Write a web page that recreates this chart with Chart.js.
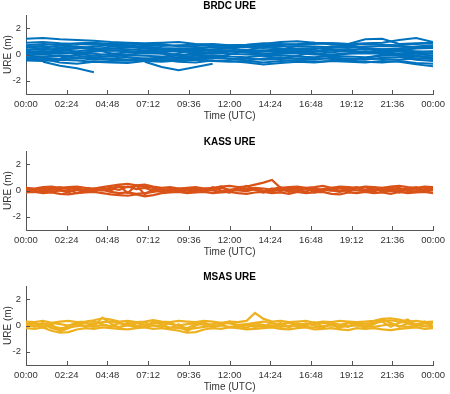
<!DOCTYPE html>
<html>
<head>
<meta charset="utf-8">
<script src="https://cdn.jsdelivr.net/npm/chart.js@4.4.1/dist/chart.umd.min.js"></script>
<style>
  html, body { margin: 0; padding: 0; background: #fff; }
  body { width: 450px; height: 394px; position: relative; overflow: hidden; }
  .panel { position: absolute; left: 0; width: 450px; height: 123px; }
</style>
</head>
<body>
<div class="panel" style="top:0px"><canvas id="brdc" width="450" height="123"></canvas></div>
<div class="panel" style="top:136px"><canvas id="kass" width="450" height="123"></canvas></div>
<div class="panel" style="top:271px"><canvas id="msas" width="450" height="123"></canvas></div>
<script>
// time axis (hours of day)
var tickHours = [0, 2.4, 4.8, 7.2, 9.6, 12, 14.4, 16.8, 19.2, 21.6, 24];
var tickLabels = ["00:00", "02:24", "04:48", "07:12", "09:36", "12:00", "14:24", "16:48", "19:12", "21:36", "00:00"];
var yTicks = [-2, 0, 2];

// BRDC sampled hourly
var hours1 = [0, 1, 2, 3, 4, 5, 6, 7, 8, 9, 10, 11, 12, 13, 14, 15, 16, 17, 18, 19, 20, 21, 22, 23, 24];
// KASS / MSAS sampled every 30 min
var hours05 = [0, 0.5, 1, 1.5, 2, 2.5, 3, 3.5, 4, 4.5, 5, 5.5, 6, 6.5, 7, 7.5, 8, 8.5, 9, 9.5,
  10, 10.5, 11, 11.5, 12, 12.5, 13, 13.5, 14, 14.5, 15, 15.5, 16, 16.5, 17, 17.5, 18, 18.5, 19, 19.5,
  20, 20.5, 21, 21.5, 22, 22.5, 23, 23.5, 24];

var brdcA = [1.2, 1.25, 1.15, 1.1, 1.05, 0.95, 0.9, 0.85, 0.9, 0.95, 0.8, 0.75, 0.7, 0.72, 0.8, 0.95, 1.0, 0.9, 0.85, 0.8, 0.85, 0.9, 1.1, 1.25, 0.95];
var brdcB = [0.9, 0.95, 0.85, 0.8, 0.75, 0.8, 0.85, 0.7, 0.65, 0.7, 0.75, 0.8, 0.7, 0.75, 0.85, 0.8, 0.75, 0.8, 0.85, 0.8, 1.15, 1.2, 0.8, 0.85, 0.9];
var brdcC = [0.6, 0.65, 0.55, 0.6, 0.5, 0.45, 0.55, 0.6, 0.5, 0.45, 0.5, 0.55, 0.6, 0.55, 0.5, 0.6, 0.65, 0.6, 0.55, 0.5, 0.6, 0.65, 0.6, 0.55, 0.6];
var brdcD = [0.4, 0.35, 0.45, 0.5, 0.4, 0.3, 0.35, 0.45, 0.4, 0.35, 0.3, 0.4, 0.45, 0.35, 0.3, 0.4, 0.45, 0.5, 0.4, 0.35, 0.45, 0.4, 0.35, 0.45, 0.5];
var brdcE = [0.2, 0.25, 0.15, 0.1, 0.2, 0.3, 0.25, 0.15, 0.2, 0.25, 0.15, 0.1, 0.2, 0.25, 0.3, 0.2, 0.15, 0.25, 0.3, 0.2, 0.15, 0.2, 0.3, 0.25, 0.2];
var brdcF = [0.05, 0.0, 0.1, 0.15, 0.05, -0.05, 0.0, 0.1, 0.05, -0.05, 0.0, 0.1, 0.05, 0.0, -0.05, 0.05, 0.1, 0.0, -0.05, 0.05, 0.1, 0.05, 0.0, 0.1, 0.05];
var brdcG = [-0.1, -0.15, -0.05, -0.1, -0.2, -0.15, -0.05, -0.1, -0.15, -0.2, -0.1, -0.05, -0.15, -0.2, -0.1, -0.05, -0.15, -0.2, -0.1, -0.15, -0.2, -0.1, -0.05, -0.15, -0.1];
var brdcH = [-0.3, -0.25, -0.35, -0.3, -0.25, -0.35, -0.4, -0.3, -0.25, -0.35, -0.3, -0.25, -0.35, -0.3, -0.4, -0.35, -0.3, -0.25, -0.35, -0.4, -0.3, -0.35, -0.4, -0.3, -0.35];
var brdcI = [-0.45, -0.5, -0.4, -0.45, -0.55, -0.5, -0.45, -0.5, -0.55, -0.45, -0.4, -0.5, -0.55, -0.5, -0.6, -0.5, -0.45, -0.55, -0.5, -0.45, -0.55, -0.6, -0.5, -0.65, -0.7];
var brdcJ = [null, -0.55, -0.85, -1.05, -1.35, null, null, null, null, null, null, null, null, null, null, null, null, null, null, null, null, null, null, null, null];
var brdcK = [null, null, null, null, null, null, null, -0.55, -0.95, -1.2, -0.95, -0.7, null, null, null, null, null, null, null, null, null, null, null, null, null];
var brdcL = [0.3, 0.5, 0.7, 0.6, 0.4, 0.1, -0.2, -0.4, -0.2, 0.1, 0.4, 0.6, 0.5, 0.2, -0.1, -0.3, -0.1, 0.2, 0.5, 0.7, 0.5, 0.2, -0.1, -0.3, -0.2];
var brdcM = [-0.2, -0.4, -0.3, 0.0, 0.3, 0.6, 0.7, 0.5, 0.2, -0.1, -0.4, -0.3, 0.0, 0.3, 0.6, 0.7, 0.4, 0.1, -0.2, -0.4, -0.3, 0.0, 0.3, 0.5, 0.6];
var brdcN = [0.7, 0.8, 0.75, 0.85, 0.9, 0.8, 0.7, 0.75, 0.8, 0.6, 0.65, 0.7, 0.65, 0.6, 0.7, 0.75, 0.8, 0.9, 0.75, 0.7, 0.8, 0.75, 0.7, 0.8, 0.85];
var brdcO = [-0.4, -0.35, -0.6, -0.7, -0.55, -0.6, -0.65, -0.5, -0.4, -0.55, -0.6, -0.45, -0.5, -0.6, -0.75, -0.65, -0.55, -0.6, -0.5, -0.55, -0.6, -0.5, -0.55, -0.75, -0.9];
var brdcP = [0.1, 0.2, 0.3, 0.25, 0.35, 0.45, 0.4, 0.3, 0.2, 0.35, 0.45, 0.3, 0.25, 0.15, 0.2, 0.3, 0.35, 0.25, 0.15, 0.3, 0.4, 0.3, 0.2, 0.15, 0.25];
var brdcQ = [0.55, 0.45, 0.35, 0.45, 0.6, 0.7, 0.6, 0.5, 0.35, 0.3, 0.2, 0.35, 0.5, 0.6, 0.55, 0.45, 0.3, 0.4, 0.6, 0.65, 0.5, 0.4, 0.45, 0.6, 0.7];
var brdcR = [-0.05, 0.1, 0.2, 0.05, -0.1, 0.05, 0.15, 0.25, 0.1, -0.05, 0.1, 0.2, 0.3, 0.15, 0.05, 0.15, 0.25, 0.1, 0.0, 0.1, 0.25, 0.15, 0.05, -0.05, 0.1];
var brdcS = [-0.35, -0.2, -0.1, -0.25, -0.4, -0.3, -0.2, -0.3, -0.45, -0.35, -0.2, -0.15, -0.3, -0.45, -0.3, -0.2, -0.35, -0.4, -0.25, -0.3, -0.4, -0.25, -0.2, -0.4, -0.5];

var kass1 = [0.2, 0.15, 0.25, 0.3, 0.2, 0.25, 0.3, 0.2, 0.15, 0.25,
  0.35, 0.45, 0.5, 0.4, 0.45, 0.3, 0.2, 0.25, 0.15, 0.2,
  0.25, 0.15, 0.2, 0.3, 0.35, 0.25, 0.3, 0.45, 0.6, 0.8,
  0.2, 0.25, 0.3, 0.2, 0.25, 0.35, 0.2, 0.3, 0.25, 0.2,
  0.3, 0.25, 0.2, 0.3, 0.35, 0.25, 0.2, 0.3, 0.25];
var kass2 = [0.1, 0.05, 0.15, 0.05, 0.1, 0.2, 0.1, 0.0, 0.15, 0.1,
  0.2, 0.3, 0.25, 0.35, 0.3, 0.2, 0.1, 0.05, 0.15, 0.1,
  0.05, 0.15, 0.1, 0.2, 0.05, 0.15, 0.1, 0.2, 0.15, 0.05,
  0.15, 0.1, 0.2, 0.15, 0.05, 0.1, 0.2, 0.15, 0.1, 0.2,
  0.05, 0.15, 0.1, 0.2, 0.1, 0.15, 0.05, 0.1, 0.15];
var kass3 = [0.0, -0.05, 0.05, -0.1, 0.0, -0.05, 0.05, -0.1, 0.0, 0.05,
  -0.1, -0.2, -0.15, -0.25, -0.2, -0.1, 0.0, -0.05, 0.05, 0.0,
  -0.05, 0.05, 0.0, -0.1, 0.05, 0.0, -0.05, 0.1, 0.0, -0.05,
  0.05, -0.05, 0.0, 0.1, -0.05, 0.05, 0.0, -0.1, 0.05, 0.0,
  -0.05, 0.05, 0.0, -0.05, 0.05, 0.0, -0.1, 0.05, 0.0];
var kass4 = [-0.15, -0.1, -0.2, -0.15, -0.25, -0.3, -0.2, -0.15, -0.1, -0.2,
  -0.3, -0.35, -0.4, -0.3, -0.45, -0.35, -0.2, -0.15, -0.1, -0.2,
  -0.15, -0.1, -0.2, -0.15, -0.1, -0.2, -0.25, -0.15, -0.1, -0.2,
  -0.15, -0.25, -0.1, -0.2, -0.15, -0.1, -0.25, -0.3, -0.15, -0.2,
  -0.1, -0.2, -0.15, -0.25, -0.1, -0.2, -0.15, -0.1, -0.2];
var kass5 = [0.2, 0.0, -0.1, 0.1, 0.25, 0.1, -0.2, -0.05, 0.1, 0.0,
  0.15, 0.05, 0.3, 0.1, 0.2, 0.0, -0.1, 0.1, 0.0, -0.15,
  0.1, -0.05, 0.25, 0.0, -0.15, 0.2, 0.0, 0.1, -0.1, 0.15,
  -0.05, 0.2, 0.05, -0.1, 0.2, 0.0, 0.15, -0.05, 0.1, 0.25,
  0.0, -0.1, 0.2, 0.05, -0.15, 0.1, 0.25, 0.0, 0.1];
var kass6 = [-0.1, 0.1, -0.05, 0.2, 0.0, -0.15, 0.15, 0.05, -0.1, 0.2,
  0.0, 0.35, -0.2, 0.4, -0.3, 0.1, -0.05, 0.15, -0.1, 0.05,
  0.2, -0.1, 0.1, 0.3, -0.05, 0.15, 0.35, 0.05, -0.15, 0.1,
  0.25, -0.1, 0.05, 0.2, -0.15, 0.1, 0.0, 0.2, -0.1, 0.15,
  0.05, 0.25, -0.1, 0.1, 0.2, -0.05, 0.15, -0.1, 0.05];

var msas1 = [0.3, 0.25, 0.35, 0.2, 0.3, 0.35, 0.25, 0.3, 0.4, 0.55,
  0.45, 0.3, 0.35, 0.25, 0.3, 0.4, 0.3, 0.25, 0.35, 0.3,
  0.25, 0.35, 0.3, 0.2, 0.3, 0.25, 0.35, 0.95, 0.5, 0.3,
  0.35, 0.25, 0.3, 0.35, 0.2, 0.3, 0.25, 0.35, 0.3, 0.25,
  0.3, 0.35, 0.5, 0.55, 0.45, 0.3, 0.35, 0.25, 0.3];
var msas2 = [0.1, 0.15, 0.05, 0.2, 0.1, 0.0, 0.15, 0.2, 0.1, 0.25,
  0.3, 0.15, 0.1, 0.2, 0.05, 0.15, 0.2, 0.1, 0.0, 0.1,
  0.15, 0.05, 0.1, 0.2, 0.15, 0.05, 0.1, 0.2, 0.3, 0.15,
  0.1, 0.2, 0.05, 0.15, 0.1, 0.2, 0.15, 0.05, 0.2, 0.1,
  0.15, 0.2, 0.35, 0.4, 0.3, 0.2, 0.1, 0.15, 0.2];
var msas3 = [-0.05, 0.0, -0.1, -0.05, -0.2, -0.15, -0.05, 0.0, -0.1, 0.05,
  -0.05, -0.1, 0.0, -0.05, -0.1, 0.0, -0.05, -0.15, -0.2, -0.3,
  -0.2, -0.1, -0.05, 0.0, -0.1, -0.05, 0.0, -0.1, -0.05, 0.0,
  -0.1, -0.05, 0.0, -0.1, -0.15, -0.05, 0.0, -0.1, -0.05, 0.0,
  -0.05, -0.1, 0.0, 0.1, -0.05, -0.1, 0.0, -0.05, -0.1];
var msas4 = [-0.2, -0.25, -0.15, -0.4, -0.55, -0.5, -0.3, -0.2, -0.25, -0.15,
  -0.2, -0.25, -0.3, -0.2, -0.15, -0.25, -0.2, -0.3, -0.4, -0.55,
  -0.5, -0.3, -0.2, -0.25, -0.15, -0.2, -0.3, -0.25, -0.2, -0.15,
  -0.25, -0.3, -0.2, -0.15, -0.3, -0.25, -0.2, -0.3, -0.35, -0.2,
  -0.25, -0.2, -0.3, -0.35, -0.25, -0.2, -0.15, -0.25, -0.2];
var msas5 = [0.15, -0.1, 0.2, -0.2, -0.35, 0.0, 0.2, -0.1, 0.3, 0.1,
  -0.1, 0.2, 0.05, -0.15, 0.25, 0.0, -0.1, 0.2, -0.05, -0.2,
  0.1, 0.25, -0.1, 0.05, 0.3, -0.15, 0.1, 0.0, -0.1, 0.2,
  0.0, 0.25, -0.1, 0.15, 0.0, -0.2, 0.2, 0.05, -0.1, 0.25,
  0.0, 0.15, 0.3, -0.1, 0.2, 0.45, 0.0, 0.2, -0.1];
var msas6 = [0.0, 0.2, -0.15, 0.1, -0.45, -0.2, 0.05, 0.25, -0.05, 0.6,
  0.15, -0.2, 0.25, 0.0, -0.1, 0.3, 0.05, -0.2, 0.1, -0.45,
  0.0, 0.2, -0.15, 0.1, 0.25, 0.0, -0.2, 0.15, 0.05, -0.1,
  0.2, -0.15, 0.15, 0.0, 0.25, -0.1, 0.1, -0.2, 0.2, 0.05,
  -0.15, 0.1, 0.45, 0.2, -0.1, 0.15, 0.0, 0.3, -0.05];

Chart.defaults.font.family = "'Liberation Sans', Arial, Helvetica, sans-serif";
Chart.defaults.color = '#333';

var axisColor = '#555';

// MATLAB style tick marks pointing into the axes
var inwardTicks = {
  id: 'inwardTicks',
  afterDraw: function (chart) {
    var ctx = chart.ctx, a = chart.chartArea, x = chart.scales.x, y = chart.scales.y;
    ctx.save();
    ctx.strokeStyle = axisColor;
    ctx.lineWidth = 1;
    ctx.beginPath();
    x.ticks.forEach(function (t) {
      var px = Math.round(x.getPixelForValue(t.value)) + 0.5;
      ctx.moveTo(px, a.bottom);
      ctx.lineTo(px, a.bottom - 4);
    });
    y.ticks.forEach(function (t) {
      var py = Math.round(y.getPixelForValue(t.value)) + 0.5;
      ctx.moveTo(a.left, py);
      ctx.lineTo(a.left + 4, py);
    });
    ctx.stroke();
    ctx.restore();
  }
};

function makeSets(times, list, color, width) {
  return list.map(function (vals) {
    return {
      data: vals.map(function (v, i) { return { x: times[i], y: v }; }),
      borderColor: color,
      borderWidth: width,
      pointRadius: 0,
      tension: 0,
      spanGaps: false
    };
  });
}

function drawPanel(id, title, times, list, color, width) {
  new Chart(document.getElementById(id), {
    type: 'line',
    data: { datasets: makeSets(times, list, color, width) },
    plugins: [inwardTicks],
    options: {
      responsive: false,
      animation: false,
      devicePixelRatio: 1,
      layout: { padding: { left: 0, right: 13, top: 0, bottom: 0 } },
      plugins: {
        legend: { display: false },
        tooltip: { enabled: false },
        title: {
          display: true,
          text: title,
          fullSize: false,
          color: '#000',
          font: { size: 10, weight: 'bold' },
          padding: { top: 0, bottom: 3 }
        }
      },
      scales: {
        x: {
          type: 'linear',
          min: 0,
          max: 24,
          afterBuildTicks: function (s) { s.ticks = tickHours.map(function (v) { return { value: v }; }); },
          afterFit: function (s) { s.height = 29; },
          grid: { display: false, drawTicks: false },
          border: { display: true, color: axisColor, width: 1 },
          ticks: {
            autoSkip: false,
            maxRotation: 0,
            padding: 5,
            font: { size: 9.5 },
            callback: function (v, i) { return tickLabels[i]; }
          },
          title: { display: true, text: 'Time (UTC)', font: { size: 10 }, padding: { top: 0, bottom: 1 } }
        },
        y: {
          min: -3,
          max: 3,
          afterBuildTicks: function (s) { s.ticks = yTicks.map(function (v) { return { value: v }; }); },
          afterFit: function (s) { s.width = 26; },
          grid: { display: false, drawTicks: false },
          border: { display: true, color: axisColor, width: 1 },
          ticks: { padding: 5, font: { size: 9.5 } },
          title: { display: true, text: 'URE (m)', font: { size: 10 }, padding: { top: 2, bottom: 0 } }
        }
      }
    }
  });
}

drawPanel('brdc', 'BRDC URE', hours1,
  [brdcA, brdcB, brdcC, brdcD, brdcE, brdcF, brdcG, brdcH, brdcI, brdcJ, brdcK, brdcL, brdcM, brdcN, brdcO, brdcP, brdcQ, brdcR, brdcS],
  '#0072BD', 2);
drawPanel('kass', 'KASS URE', hours05, [kass1, kass2, kass3, kass4, kass5, kass6], '#D95319', 2.2);
drawPanel('msas', 'MSAS URE', hours05, [msas1, msas2, msas3, msas4, msas5, msas6], '#EDB120', 2.2);
</script>
</body>
</html>
